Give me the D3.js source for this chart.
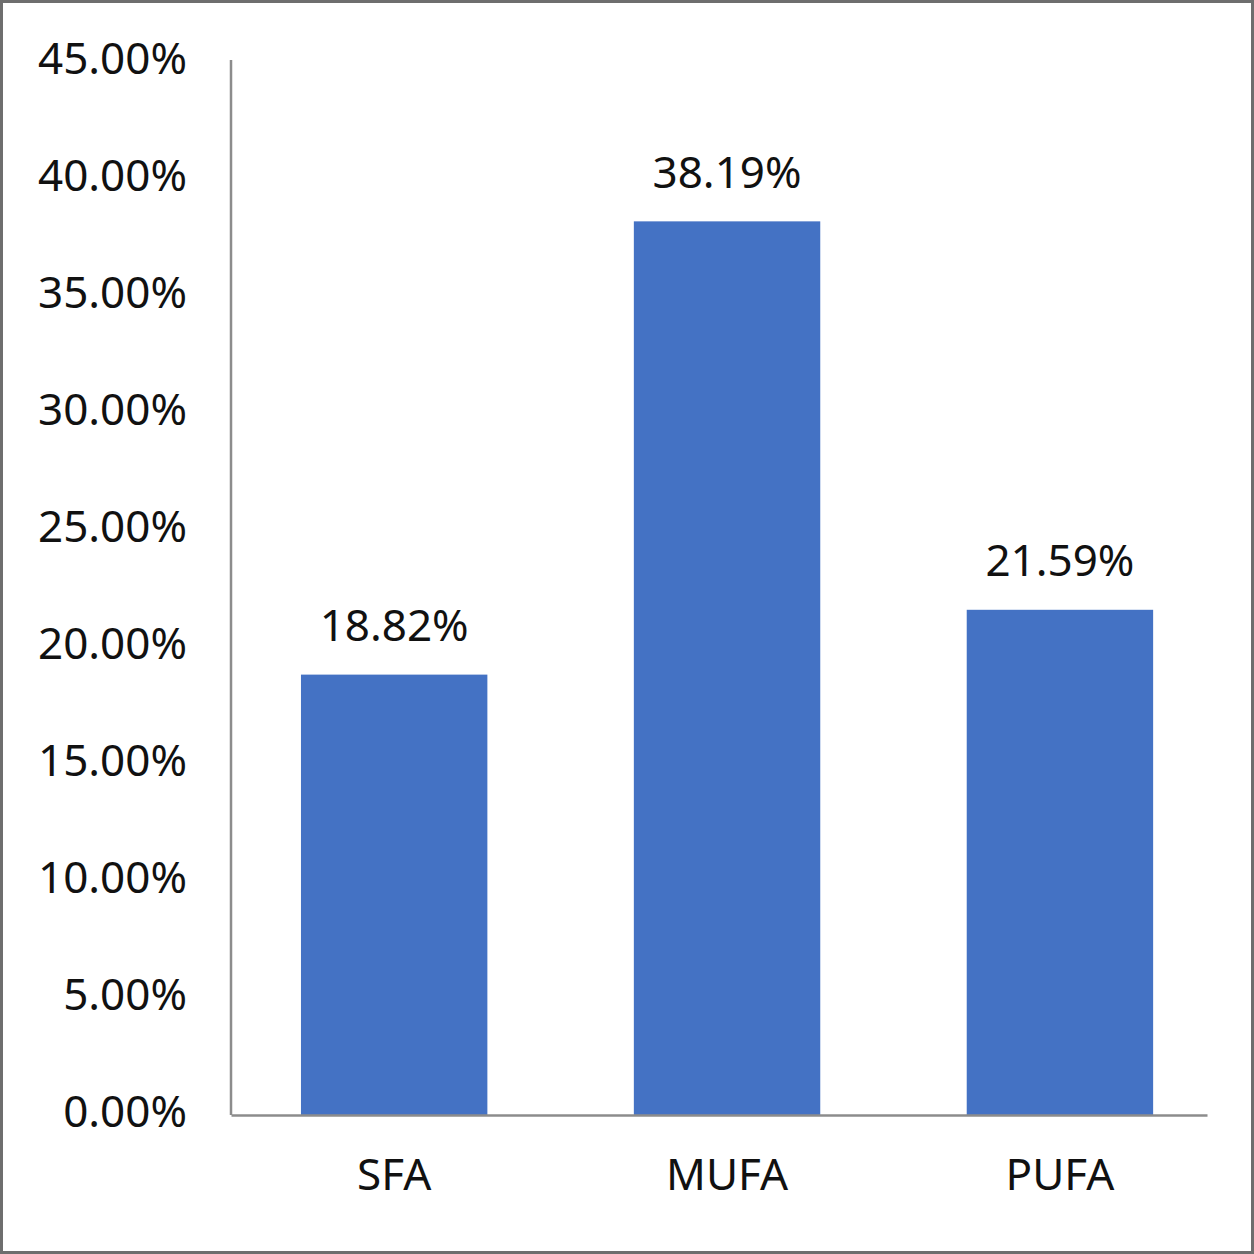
<!DOCTYPE html>
<html>
<head>
<meta charset="utf-8">
<script src="https://cdn.jsdelivr.net/npm/d3@7"></script>
<style>
  html, body { margin: 0; padding: 0; background: #fff; }
  svg { display: block; }
</style>
</head>
<body>
<div id="chart"></div>
<script>
  // Chart data.
  const categories = ['SFA', 'MUFA', 'PUFA'];
  const values = [18.82, 38.19, 21.59];
  const yTicks = [0, 5, 10, 15, 20, 25, 30, 35, 40, 45];

  const width = 1254, height = 1254;
  const font = '"Noto Sans", "Open Sans", sans-serif';
  const barColor = '#4472c4';
  const axisColor = '#8c8c8c';

  const svg = d3.select('#chart').append('svg')
    .attr('width', width)
    .attr('height', height);

  // Outer frame.
  svg.append('rect')
    .attr('x', 1.5).attr('y', 1.5)
    .attr('width', width - 3).attr('height', height - 3)
    .attr('fill', '#fff')
    .attr('stroke', '#6e6e6e')
    .attr('stroke-width', 3);

  const x = d3.scaleBand()
    .domain(categories)
    .range([231, 1207])
    .paddingInner(0.44)
    .paddingOuter(0.186)
    .align(0.565);

  const y = d3.scaleLinear()
    .domain([0, 45])
    .range([1115, 62]);

  // Bars.
  svg.selectAll('rect.bar')
    .data(values)
    .enter().append('rect')
    .attr('class', 'bar')
    .attr('x', (d, i) => x(categories[i]))
    .attr('width', x.bandwidth())
    .attr('y', d => y(d))
    .attr('height', d => y(0) - y(d))
    .attr('fill', barColor);

  // Value labels above bars.
  svg.selectAll('text.value')
    .data(values)
    .enter().append('text')
    .attr('class', 'value')
    .attr('x', (d, i) => x(categories[i]) + x.bandwidth() / 2)
    .attr('y', d => y(d) - 49)
    .attr('dy', '0.35em')
    .attr('text-anchor', 'middle')
    .style('font-family', font)
    .style('font-size', '44px')
    .attr('fill', '#111')
    .text(d => d.toFixed(2) + '%');

  // Y axis.
  const yAxis = svg.append('g')
    .attr('transform', 'translate(231,0)')
    .call(d3.axisLeft(y)
      .tickValues(yTicks)
      .tickSize(0)
      .tickPadding(44)
      .tickFormat(d => d.toFixed(2) + '%'));
  yAxis.select('.domain')
    .attr('stroke', axisColor)
    .attr('stroke-width', 2.5)
    .attr('d', 'M0,' + (y(45) - 2) + 'V' + y(0));
  yAxis.selectAll('text')
    .attr('dy', '0.35em')
    .attr('y', -4)
    .style('font-family', font)
    .style('font-size', '44px')
    .attr('fill', '#111');

  // X axis.
  const xAxis = svg.append('g')
    .attr('transform', 'translate(0,' + y(0) + ')')
    .call(d3.axisBottom(x).tickSize(0).tickPadding(44));
  xAxis.select('.domain')
    .attr('stroke', axisColor)
    .attr('stroke-width', 2.5);
  xAxis.selectAll('text')
    .attr('dy', '0.35em')
    .attr('y', 60)
    .style('font-family', font)
    .style('font-size', '44px')
    .attr('fill', '#111');
</script>
</body>
</html>
